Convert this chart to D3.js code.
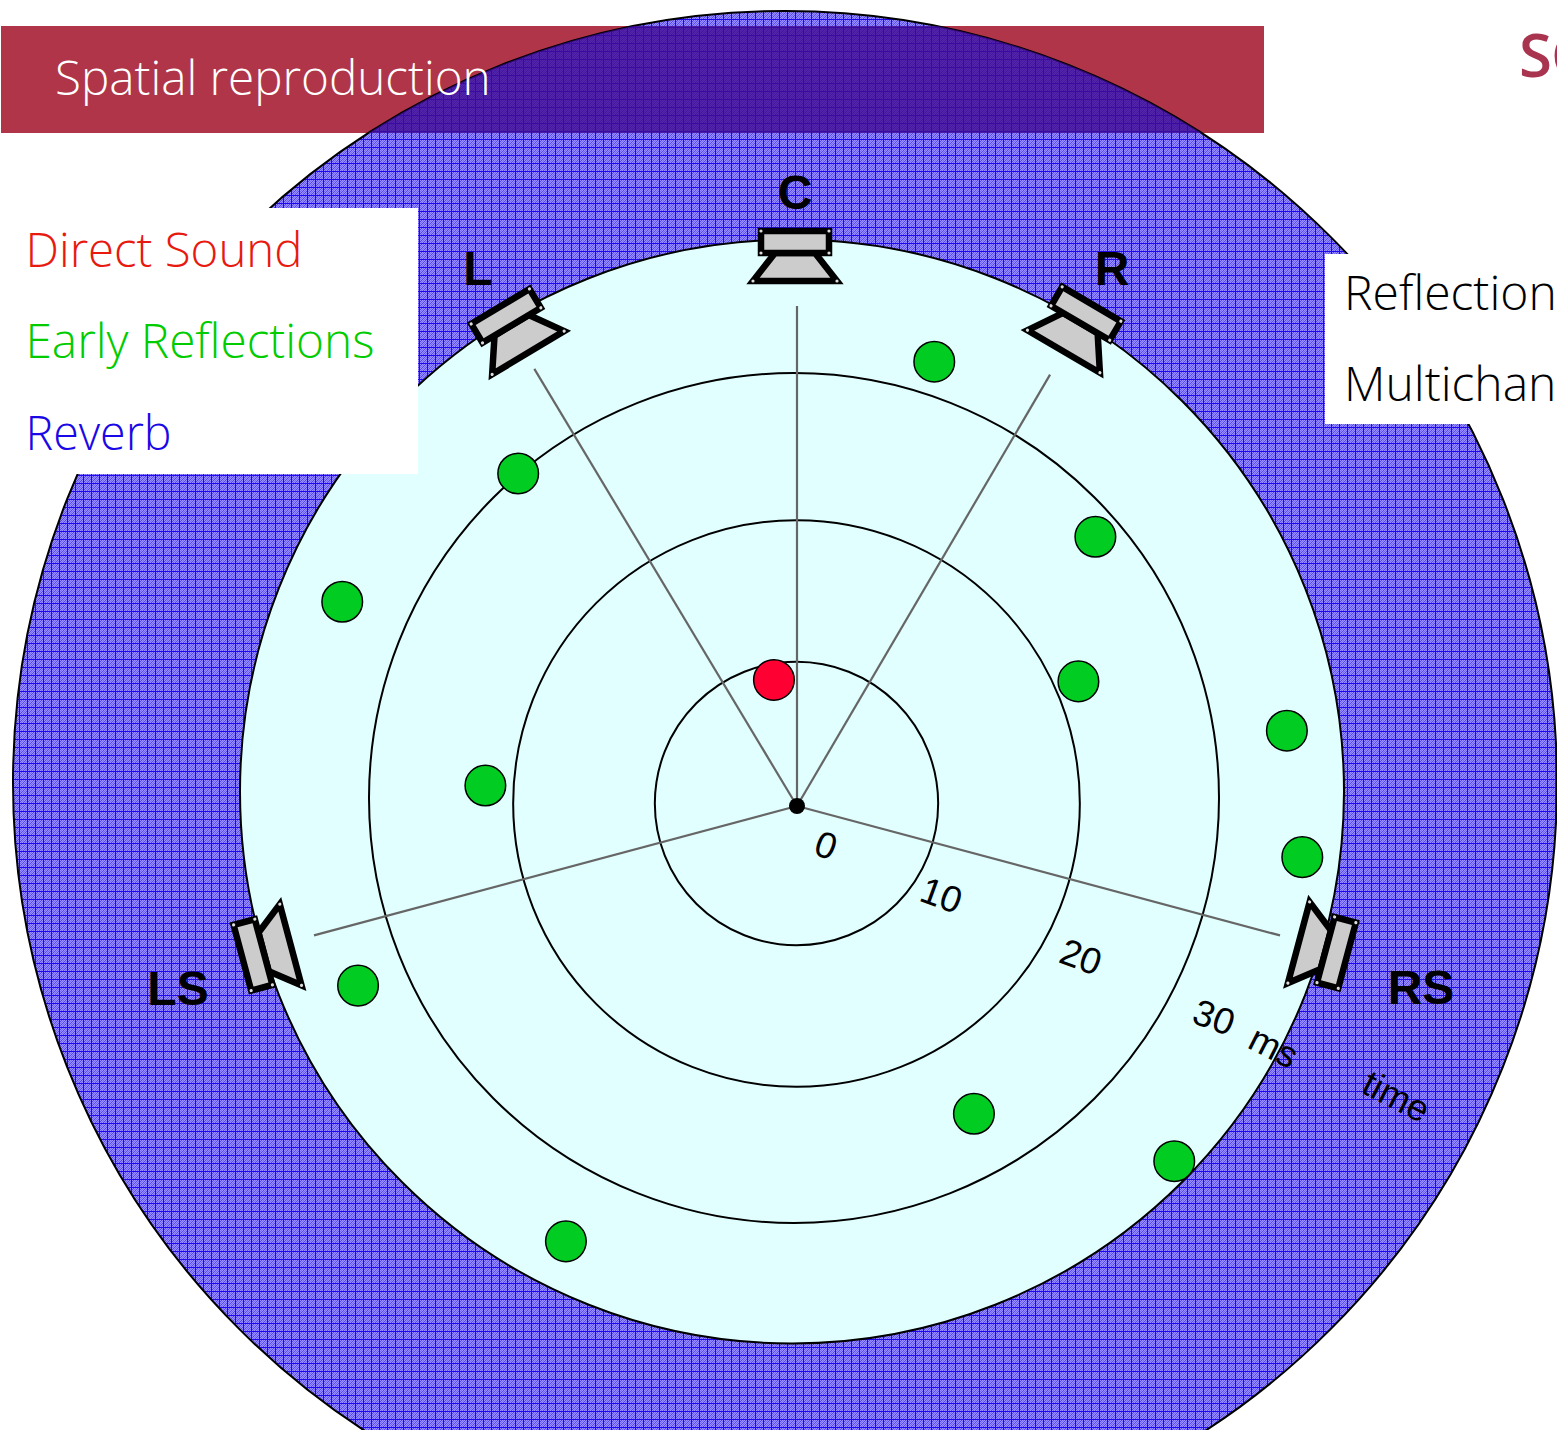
<!DOCTYPE html>
<html>
<head>
<meta charset="utf-8">
<script src="https://d3js.org/d3.v7.min.js"></script>
<style>
  html, body { margin: 0; padding: 0; background: #fff; overflow: hidden; }
  svg { display: block; }
  .slide { font-family: "Open Sans", "Noto Sans", sans-serif; font-weight: 300; }
  .label { font-family: "Liberation Sans", Arial, sans-serif; fill: #000; }
</style>
</head>
<body>
<svg class="chart" width="1557" height="1430"></svg>
<script>
// angle = degrees clockwise from straight ahead, ms = arrival time
var ringTimes = [10, 20, 30];
var directAngles = [349.7];
var directTimes = [8.9];
var earlyAngles = [17.3, 48.2, 66.5, 81.5, 96.0, 133.4, 150.2, 207.8, 247.5, 273.4, 294.0, 319.9];
var earlyTimes = [32.7, 28.3, 21.7, 35.0, 35.9, 36.7, 25.2, 34.9, 33.5, 22.0, 35.1, 30.5];
var speakerNames = ["C", "L", "R", "LS", "RS"];
var speakerAngles = [0, -31, 30.4, -105, 105];
var rayTimes = [35.3, 36, 35.3, 35.3, 35.3];
var scaleTexts = ["0", "10", "20", "30", "ms", "time"];
var scaleTextAngles = [144.6, 122.3, 118.3, 117.1, 117.0, 116.0];
var scaleTextTimes = [3.6, 12.1, 22.8, 33.1, 37.8, 47.1];
var legendTexts = ["Direct Sound", "Early Reflections", "Reverb"];
var legendColors = ["#e8190f", "#00cc00", "#1a08e6"];
var sideTexts = ["Reflection", "Multichan"];

var svg = d3.select("svg");
var defs = svg.append("defs");
var r = d3.scaleLinear().domain([0, 30]).range([0, 425]);

// woven fill of the reverb area
var pat = defs.append("pattern").attr("id", "weave")
  .attr("patternUnits", "userSpaceOnUse").attr("width", 8).attr("height", 8);
pat.append("rect").attr("width", 8).attr("height", 8).attr("fill", "#7468f8");
d3.range(8).forEach(function(i) {
  d3.range(8).forEach(function(j) {
    if ((i + j) % 2 == 0) {
      pat.append("rect").attr("x", i).attr("y", j).attr("width", 1).attr("height", 1).attr("fill", "#9a90ff");
    } else if ((i + j) % 4 == 1) {
      pat.append("rect").attr("x", i).attr("y", j).attr("width", 1).attr("height", 1).attr("fill", "#5444f4");
    }
  });
});
pat.append("rect").attr("x", 3).attr("width", 1).attr("height", 8).attr("fill", "#2008ee");
pat.append("rect").attr("y", 3).attr("width", 8).attr("height", 1).attr("fill", "#2008ee");

defs.append("clipPath").attr("id", "disc").append("circle")
  .attr("cx", 785).attr("cy", 783).attr("r", 772);

svg.append("rect").attr("x", 1).attr("y", 26).attr("width", 1263).attr("height", 107).attr("fill", "#b03549");

svg.append("circle").attr("cx", 785).attr("cy", 783).attr("r", 772)
  .attr("fill", "url(#weave)").attr("stroke", "#000").attr("stroke-width", 2);

// where band and disc overlap it goes dark violet
svg.append("rect").attr("x", 1).attr("y", 26).attr("width", 1263).attr("height", 107)
  .attr("clip-path", "url(#disc)")
  .attr("fill", "#400a90").attr("opacity", 0.8);

svg.append("circle").attr("cx", 792).attr("cy", 791.5).attr("r", 552)
  .attr("fill", "#e2ffff").attr("stroke", "#000").attr("stroke-width", 2);

// time rings
var ringCx = [796.5, 796.5, 794], ringCy = [803.5, 803.5, 798];
svg.selectAll(".ring").data(ringTimes).enter().append("circle")
  .attr("class", "ring")
  .attr("cx", function(d, i) { return ringCx[i]; })
  .attr("cy", function(d, i) { return ringCy[i]; })
  .attr("r", function(d) { return r(d); })
  .attr("fill", "none").attr("stroke", "#000").attr("stroke-width", 2);

// rays from the listener to the speakers
var listener = svg.append("g").attr("transform", "translate(797,806)");
listener.selectAll("line").data(speakerAngles).enter().append("line")
  .attr("x2", function(d, i) { return d3.pointRadial(d * Math.PI / 180, r(rayTimes[i]))[0]; })
  .attr("y2", function(d, i) { return d3.pointRadial(d * Math.PI / 180, r(rayTimes[i]))[1]; })
  .attr("stroke", "#666").attr("stroke-width", 2.2);
listener.append("circle").attr("r", 8).attr("fill", "#000");

// speakers: one shape turned around the listener
var box = [[-34, -575], [34, -575], [34, -553], [-34, -553]];
var shiftX = [-2, 3, 0, -3, 2], shiftY = [0, -6, -7, 0, 5], hornExtra = [0, 4, 5, 0, 0];
speakerAngles.forEach(function(a, k) {
  var horn = [[-20, -553], [20, -553], [42, -525 + hornExtra[k]], [-42, -525 + hornExtra[k]]];
  var spk = listener.append("g").attr("class", "spk")
    .attr("transform", "rotate(" + a + ") translate(" + shiftX[k] + "," + shiftY[k] + ")");
  [horn, box].forEach(function(shape) {
    spk.append("polygon")
      .attr("points", shape.join(" "))
      .attr("fill", "#ccc").attr("stroke", "#000").attr("stroke-width", 6.5)
      .attr("stroke-miterlimit", 10);
    shape.forEach(function(p) {
      spk.append("circle").attr("cx", p[0]).attr("cy", p[1]).attr("r", 1.6).attr("fill", "#ddd");
    });
  });
});

// reflections through the polar scale
var polar = svg.append("g").attr("transform", "translate(796.5,804)");
function dots(angles, times, fill) {
  polar.selectAll(".d" + fill.slice(1)).data(angles).enter().append("circle")
    .attr("class", "d" + fill.slice(1))
    .attr("cx", function(d, i) { return d3.pointRadial(d * Math.PI / 180, r(times[i]))[0]; })
    .attr("cy", function(d, i) { return d3.pointRadial(d * Math.PI / 180, r(times[i]))[1]; })
    .attr("r", 20.3).attr("fill", fill).attr("stroke", "#000").attr("stroke-width", 1.5);
}
dots(earlyAngles, earlyTimes, "#00cc22");
dots(directAngles, directTimes, "#ff0033");

// scale numbers along the diagonal
polar.selectAll(".scale").data(scaleTexts).enter().append("text")
  .attr("class", "label scale")
  .attr("text-anchor", "middle").attr("dominant-baseline", "central")
  .attr("font-size", 37)
  .attr("transform", function(d, i) {
    var p = d3.pointRadial(scaleTextAngles[i] * Math.PI / 180, r(scaleTextTimes[i]));
    return "translate(" + p[0] + "," + p[1] + ") rotate(" + (d == "ms" || d == "time" ? 27 : 20) + ")";
  })
  .text(function(d) { return d; });

// speaker names
var nameX = [795, 478, 1112, 178, 1421], nameY = [209, 285, 285, 1005, 1004];
svg.selectAll(".name").data(speakerNames).enter().append("text")
  .attr("class", "label name")
  .attr("x", function(d, i) { return nameX[i]; })
  .attr("y", function(d, i) { return nameY[i]; })
  .attr("text-anchor", "middle").attr("font-weight", "bold").attr("font-size", 48)
  .text(function(d) { return d; });

// white panels and slide text
svg.append("rect").attr("x", 0).attr("y", 208).attr("width", 418).attr("height", 266).attr("fill", "#fff");
svg.append("rect").attr("x", 1325).attr("y", 254).attr("width", 232).attr("height", 170).attr("fill", "#fff");

svg.append("text").attr("class", "slide").attr("x", 55).attr("y", 95)
  .attr("font-size", 47.6).attr("fill", "#fff").text("Spatial reproduction");

var legendY = [267, 358, 450], legendLen = [277, 349, 146];
svg.selectAll(".legend").data(legendTexts).enter().append("text")
  .attr("class", "slide legend")
  .attr("x", 25.5).attr("y", function(d, i) { return legendY[i]; })
  .attr("font-size", 48).attr("fill", function(d, i) { return legendColors[i]; })
  .attr("textLength", function(d, i) { return legendLen[i]; })
  .attr("lengthAdjust", "spacingAndGlyphs")
  .text(function(d) { return d; });

var sideY = [310, 401];
svg.selectAll(".side").data(sideTexts).enter().append("text")
  .attr("class", "slide side")
  .attr("x", 1344).attr("y", function(d, i) { return sideY[i]; })
  .attr("font-size", 48).attr("fill", "#000")
  .text(function(d) { return d; });

svg.append("text").attr("x", 1519).attr("y", 77).attr("letter-spacing", -1)
  .attr("font-family", "'Open Sans', sans-serif").attr("font-weight", 600)
  .attr("font-size", 60).attr("fill", "#a8344f").text("SC");
</script>
</body>
</html>
